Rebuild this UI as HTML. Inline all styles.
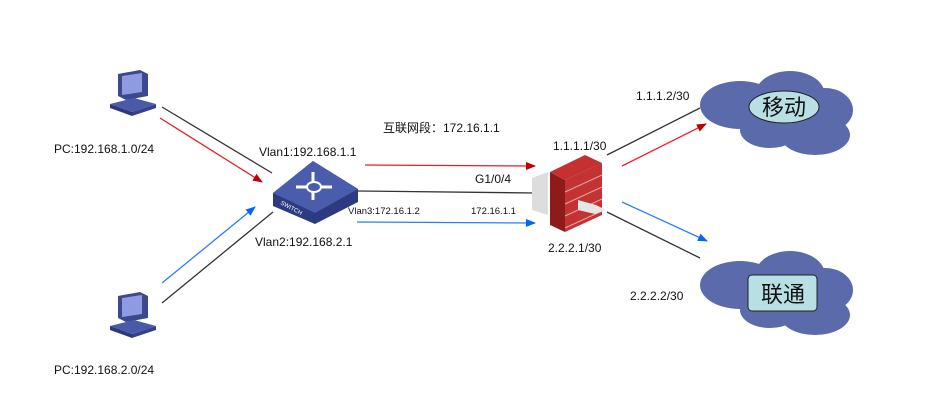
<!DOCTYPE html>
<html><head><meta charset="utf-8"><style>
body{margin:0;background:#fff;}
svg{display:block;font-family:"Liberation Sans","Noto Sans CJK SC",sans-serif;}
</style></head><body>
<svg width="940" height="415" viewBox="0 0 940 415">
<defs>
<marker id="r" markerWidth="10" markerHeight="8" refX="9" refY="4" orient="auto" markerUnits="userSpaceOnUse"><path d="M0,0L10,4L0,8z" fill="#c00000"/></marker>
<marker id="b" markerWidth="10" markerHeight="8" refX="9" refY="4" orient="auto" markerUnits="userSpaceOnUse"><path d="M0,0L10,4L0,8z" fill="#0066ff"/></marker>
<g id="pc">
<path d="M8,4 L30,0 L38,4 L38,26 L16,30 L8,26z" fill="#3b4a8f"/>
<path d="M12,6 L32,3 L32,22 L12,25z" fill="#8f9be0"/>
<path d="M0,34 L24,28 L46,34 L22,42z" fill="#4a5aa8"/>
<path d="M0,34 L22,42 L22,46 L0,38z" fill="#2c3878"/>
<path d="M22,42 L46,34 L46,38 L22,46z" fill="#34428a"/>
</g>
</defs>
<!-- PCs -->
<use href="#pc" x="110" y="70"/>
<use href="#pc" x="110" y="292"/>
<!-- lines left -->
<line x1="162" y1="107" x2="272" y2="173" stroke="#333" stroke-width="1.3"/>
<line x1="160" y1="118" x2="262" y2="182" stroke="#d22" stroke-width="1.3" marker-end="url(#r)"/>
<line x1="162" y1="283" x2="255" y2="207" stroke="#2a7cff" stroke-width="1.3" marker-end="url(#b)"/>
<line x1="162" y1="303" x2="273" y2="212" stroke="#333" stroke-width="1.3"/>
<!-- middle -->
<line x1="365" y1="165" x2="535" y2="166" stroke="#d22" stroke-width="1.3" marker-end="url(#r)"/>
<line x1="357" y1="191" x2="535" y2="193" stroke="#333" stroke-width="1.3"/>
<line x1="357" y1="222" x2="535" y2="223" stroke="#2a7cff" stroke-width="1.3" marker-end="url(#b)"/>
<!-- right -->
<line x1="607" y1="155" x2="700" y2="108" stroke="#333" stroke-width="1.3"/>
<line x1="622" y1="166" x2="706" y2="124" stroke="#e23" stroke-width="1.3" marker-end="url(#r)"/>
<line x1="622" y1="202" x2="707" y2="241" stroke="#2a7cff" stroke-width="1.3" marker-end="url(#b)"/>
<line x1="607" y1="212" x2="700" y2="258" stroke="#333" stroke-width="1.3"/>
<!-- switch -->
<path d="M273,193 L313,161 L358,189 L358,202 L315,224 L273,206z" fill="#2c3a80"/>
<path d="M273,193 L313,161 L358,189 L315,213z" fill="#4a5cac"/>
<path d="M313,172 L313,200 M296,187 L332,187" stroke="#fff" stroke-width="3"/>
<ellipse cx="314" cy="187" rx="7" ry="5" fill="#4a5cac" stroke="#fff" stroke-width="2"/>
<text x="280" y="204" font-size="6" fill="#fff" transform="rotate(28 280 204)">SWITCH</text>
<!-- firewall -->
<path d="M532,178 L548,172 L548,215 L532,210z" fill="#ddd"/>
<path d="M550,172 L565,180 L565,232 L550,225z" fill="#8e1a1a"/>
<path d="M550,172 L585,155 L602,163 L565,180z" fill="#c53030"/>
<path d="M565,180 L602,163 L602,215 L565,232z" fill="#c43333"/>
<g stroke="#e8a0a0" stroke-width="1" fill="none">
<path d="M565,192 L602,175 M565,204 L602,187 M565,216 L602,199 M565,228 L602,211"/>
</g>
<path d="M578,200 L596,205 L606,210 L595,214 L578,210z" fill="#e6e6e6"/>
<!-- clouds -->
<g fill="#5a6aaa">
<ellipse cx="740" cy="105" rx="40" ry="24"/><ellipse cx="790" cy="95" rx="35" ry="24"/>
<ellipse cx="825" cy="110" rx="28" ry="22"/><ellipse cx="770" cy="130" rx="30" ry="18"/>
<ellipse cx="815" cy="135" rx="35" ry="20"/><ellipse cx="780" cy="112" rx="50" ry="28"/>
</g>
<g fill="#5a6aaa" transform="translate(0,180)">
<ellipse cx="740" cy="105" rx="40" ry="24"/><ellipse cx="790" cy="95" rx="35" ry="24"/>
<ellipse cx="825" cy="110" rx="28" ry="22"/><ellipse cx="770" cy="130" rx="30" ry="18"/>
<ellipse cx="815" cy="135" rx="35" ry="20"/><ellipse cx="780" cy="112" rx="50" ry="28"/>
</g>
<ellipse cx="784" cy="107" rx="35" ry="16" fill="#b8e0e4" stroke="#222" stroke-width="1"/>
<text x="784" y="115" font-size="22" text-anchor="middle" fill="#111">移动</text>
<rect x="748" y="275" width="69" height="36" rx="4" fill="#b8e0e4" stroke="#222" stroke-width="1"/>
<text x="783" y="302" font-size="22" text-anchor="middle" fill="#111">联通</text>
<!-- labels -->
<g font-size="12" fill="#111">
<text x="54" y="153">PC:192.168.1.0/24</text>
<text x="54" y="374">PC:192.168.2.0/24</text>
<text x="259" y="156">Vlan1:192.168.1.1</text>
<text x="255" y="246">Vlan2:192.168.2.1</text>
<text x="383" y="132">互联网段：172.16.1.1</text>
<text x="475" y="183">G1/0/4</text>
<text x="553" y="150">1.1.1.1/30</text>
<text x="548" y="252">2.2.2.1/30</text>
<text x="636" y="100">1.1.1.2/30</text>
<text x="630" y="300">2.2.2.2/30</text>
</g>
<text x="348" y="214" font-size="9.5" fill="#111">Vlan3:172.16.1.2</text>
<text x="471" y="214" font-size="9.5" fill="#111">172.16.1.1</text>
</svg>
</body></html>
